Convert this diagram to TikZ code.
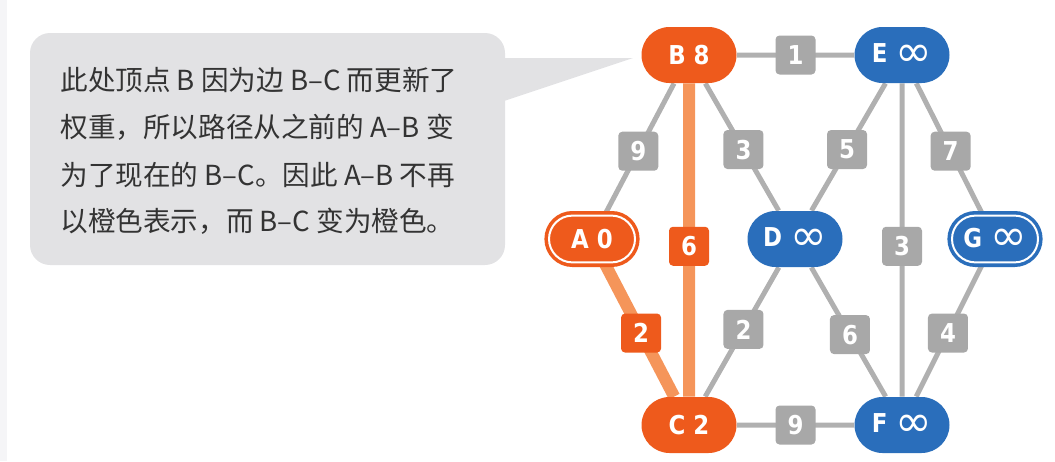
\documentclass[tikz,border=0pt]{standalone}
\usepackage{fontspec}
\usepackage{xcolor}
\usepackage{tikz}
\usetikzlibrary{backgrounds,shapes.misc}
\newfontfamily\cjkfont{Noto Sans CJK SC}
\newfontfamily\numfont[FakeStretch=0.88]{DejaVu Sans}
\newfontfamily\inffont{DejaVu Sans}
\newcommand\infsym{\raisebox{-1.6pt}{\inffont\mdseries\fontsize{22}{22}\selectfont ∞}}
\definecolor{vorange}{HTML}{EE5A1C}
\definecolor{vlight}{HTML}{F5955A}
\definecolor{vblue}{HTML}{2A6EBB}
\definecolor{wgray}{HTML}{A8A8A8}
\definecolor{egray}{HTML}{B0B0B0}
\definecolor{bubble}{HTML}{E2E2E4}
\definecolor{strip}{HTML}{F5F5F7}
\definecolor{notetext}{HTML}{333333}

\begin{document}
\begin{tikzpicture}[x=0.5pt, y=-0.5pt,
  every node/.style={font=\numfont\bfseries\fontsize{13}{13}\selectfont, text=white},
  note/.style={font=\cjkfont\fontsize{13.8}{13.8}\selectfont, text=notetext, anchor=base west, inner sep=0pt},
  vtx/.style={shape=rounded rectangle, minimum width=47.5pt, minimum height=28pt, inner sep=0pt},
  dvtx/.style={vtx, minimum width=43pt, minimum height=23.4pt, line width=1.8pt, double=white, double distance=1pt},
  wbox/.style={fill=wgray, rounded corners=2pt, minimum width=20pt, minimum height=19.5pt, inner sep=0pt, pos=0.52},
  obox/.style={wbox, fill=vorange},
  gedge/.style={draw=egray, line width=2.5pt},
  oedge/.style={draw=vlight, line width=6pt}]
\useasboundingbox (0,0) rectangle (1055,461);
\fill[strip] (0,0) rectangle (7,461);

% speech bubble
\fill[bubble, rounded corners=10pt] (30,33) rectangle (505,265);
\fill[bubble] (495,58) -- (633,58) -- (495,104) -- cycle;
\node[note] (t1) at (60,90) {此处顶点 B 因为边 B–C 而更新了};
\node[note] (t2) at (60,137) {权重，所以路径从之前的 A–B 变};
\node[note] (t3) at (60,185) {为了现在的 B–C。因此 A–B 不再};
\node[note] (t4) at (60,231) {以橙色表示，而 B–C 变为橙色。};

% vertices
\node[vtx, fill=vorange] (B) at (689,55) {B 8};
\node[vtx, fill=vblue] (E) at (902,55) {E \infsym};
\node[dvtx, fill=vorange, draw=vorange] (A) at (592,239) {A 0};
\node[vtx, fill=vblue] (D) at (795,239) {D \infsym};
\node[dvtx, fill=vblue, draw=vblue] (G) at (995,239) {G \infsym};
\node[vtx, fill=vorange] (C) at (689,425) {C 2};
\node[vtx, fill=vblue] (F) at (902,425) {F \infsym};

% edges
\begin{scope}[on background layer]
\draw[gedge] (B) -- node[wbox, midway] {1} (E);
\draw[gedge] (B) -- node[wbox] {9} (A);
\draw[gedge] (B) -- node[wbox] {3} (D);
\draw[gedge] (E) -- node[wbox] {5} (D);
\draw[gedge] (E) -- node[wbox] {7} (G);
\draw[gedge] (E) -- node[wbox] {3} (F);
\draw[gedge] (D) -- node[wbox, pos=0.48] {2} (C);
\draw[gedge] (D) -- node[wbox] {6} (F);
\draw[gedge] (G) -- node[wbox] {4} (F);
\draw[gedge] (C) -- node[wbox, midway] {9} (F);
\draw[oedge] (A) -- node[obox] {2} (C);
\draw[oedge] (B) -- node[obox] {6} (C);
\end{scope}
\end{tikzpicture}
\end{document}
